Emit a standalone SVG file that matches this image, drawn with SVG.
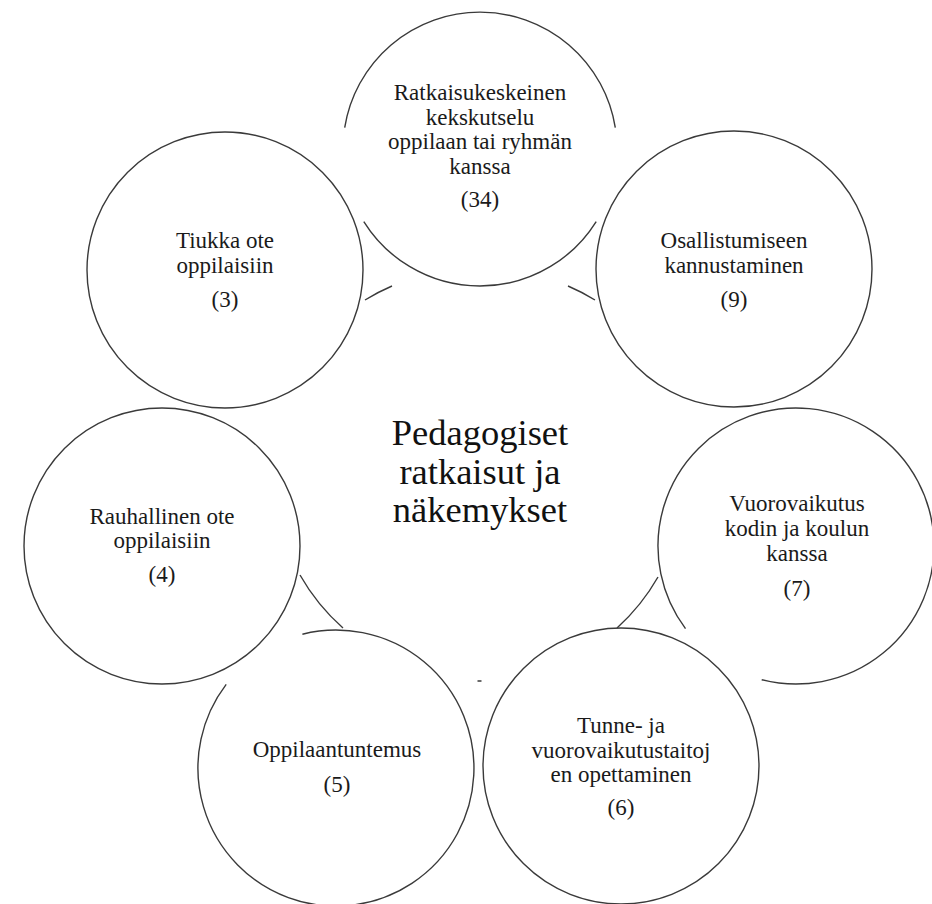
<svg xmlns="http://www.w3.org/2000/svg" width="932" height="904" viewBox="0 0 932 904">
<style>
.bg{fill:#ffffff}
.ring{fill:#ffffff;stroke:#3a3a3a;stroke-width:1.4}
.fill{fill:#ffffff;stroke:none}
.edge{fill:none;stroke:#3a3a3a;stroke-width:1.4}
.conn{fill:none;stroke:#3a3a3a;stroke-width:1.4}
.t{font-family:"Liberation Serif","Times New Roman",serif;font-size:23px;fill:#1a1a1a;text-anchor:middle}
.c{font-family:"Liberation Serif","Times New Roman",serif;font-size:36.5px;fill:#111111;text-anchor:middle}
</style>
<rect class="bg" x="0" y="0" width="932" height="904"/>
<g id="connectors">
<path class="conn" d="M365,300 A207,207 0 0 1 392,286"/>
<path class="conn" d="M568,286 A207,207 0 0 1 595,300"/>
<path class="conn" d="M300,575 A207,207 0 0 0 343,628"/>
<path class="conn" d="M658,577 A207,207 0 0 1 617,628"/>
<path class="conn" d="M477.5,681 A207,207 0 0 0 481.5,681"/>
</g>
<g id="node-top">
<circle class="fill" cx="480" cy="149" r="137"/>
<path class="edge" d="M344.7,127.6 A137,137 0 0 1 615.3,127.6"/>
<path class="edge" d="M363.8,221.6 A137,137 0 0 0 596.2,221.6"/>
<text class="t" x="480" y="100">Ratkaisukeskeinen</text>
<text class="t" x="480" y="124.5">kekskutselu</text>
<text class="t" x="480" y="149">oppilaan tai ryhmän</text>
<text class="t" x="480" y="173.5">kanssa</text>
<text class="t" x="480" y="207">(34)</text>
</g>
<g id="node-tr">
<circle class="ring" cx="734" cy="269" r="138"/>
<text class="t" x="734" y="248">Osallistumiseen</text>
<text class="t" x="734" y="272.5">kannustaminen</text>
<text class="t" x="734" y="307">(9)</text>
</g>
<g id="node-r">
<circle class="fill" cx="796" cy="546" r="138"/>
<path class="edge" d="M685.5,628.7 A138,138 0 1 1 761.7,679.7"/>
<text class="t" x="797" y="511">Vuorovaikutus</text>
<text class="t" x="797" y="536">kodin ja koulun</text>
<text class="t" x="797" y="560.5">kanssa</text>
<text class="t" x="797" y="596">(7)</text>
</g>
<g id="node-br">
<circle class="ring" cx="621" cy="766" r="138"/>
<text class="t" x="621" y="733">Tunne- ja</text>
<text class="t" x="621" y="757.5">vuorovaikutustaitoj</text>
<text class="t" x="621" y="782">en opettaminen</text>
<text class="t" x="621" y="815">(6)</text>
</g>
<g id="node-bl">
<circle class="fill" cx="336" cy="768" r="138"/>
<path class="edge" d="M302.4,634.2 A138,138 0 1 1 226.2,684.4"/>
<text class="t" x="337" y="757">Oppilaantuntemus</text>
<text class="t" x="337" y="792">(5)</text>
</g>
<g id="node-l">
<circle class="ring" cx="162" cy="546" r="138"/>
<text class="t" x="162" y="523.5">Rauhallinen ote</text>
<text class="t" x="162" y="548">oppilaisiin</text>
<text class="t" x="162" y="582">(4)</text>
</g>
<g id="node-tl">
<circle class="ring" cx="225" cy="270" r="138"/>
<text class="t" x="225" y="248">Tiukka ote</text>
<text class="t" x="225" y="273">oppilaisiin</text>
<text class="t" x="225" y="307">(3)</text>
</g>
<g id="center">
<text class="c" x="480" y="445">Pedagogiset</text>
<text class="c" x="480" y="483.5">ratkaisut ja</text>
<text class="c" x="480" y="522">näkemykset</text>
</g>
</svg>
